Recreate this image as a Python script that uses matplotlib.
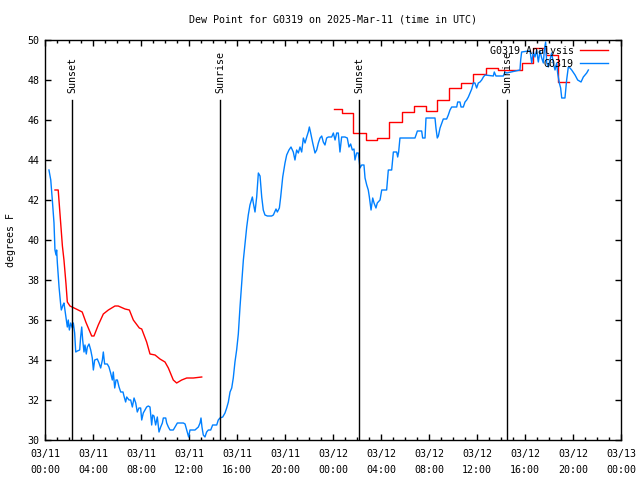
import numpy as np
import pandas as pd
import matplotlib
matplotlib.use("Agg")
import matplotlib.pyplot as plt
import matplotlib.dates as mdates

plt.rcParams["font.family"] = "DejaVu Sans Mono"
FS = 7.2

# hours after 2025-03-11 00:00 UTC
obs_hours = [0.33, 0.48, 0.61, 0.75, 0.83, 0.92, 0.97, 1.03, 1.17, 1.31, 1.36, 1.5, 1.58, 1.72,
             1.86, 1.94, 2.03, 2.14, 2.28, 2.36, 2.47, 2.56, 2.69, 2.89, 2.97, 3.06, 3.14, 3.25,
             3.33, 3.44, 3.53, 3.67, 3.81, 3.94, 4.03, 4.14, 4.36, 4.5, 4.64, 4.78, 4.86, 4.97,
             5.19, 5.33, 5.47, 5.61, 5.69, 5.81, 5.92, 6.03, 6.17, 6.31, 6.5, 6.58, 6.72, 6.81,
             7.0, 7.14, 7.28, 7.42, 7.56, 7.69, 7.83, 7.97, 8.06, 8.19, 8.33, 8.47, 8.61, 8.75,
             8.89, 8.97, 9.08, 9.22, 9.36, 9.5, 9.64, 9.78, 9.86, 10.06, 10.14, 10.28, 10.42,
             10.69, 11.03, 11.53, 11.67, 11.81, 11.97, 12.08, 12.5, 12.78, 12.92, 13.0, 13.08,
             13.19, 13.33, 13.47, 13.61, 13.81, 13.97, 14.31, 14.44, 14.58, 14.81, 15.0, 15.14,
             15.28, 15.42, 15.56, 15.69, 15.83, 15.97, 16.11, 16.25, 16.39, 16.53, 16.67, 16.81,
             16.94, 17.08, 17.28, 17.36, 17.5, 17.64, 17.78, 17.92, 18.06, 18.19, 18.33, 18.53,
             18.89, 19.03, 19.25, 19.36, 19.53, 19.64, 19.81, 20.0, 20.14, 20.33, 20.5, 20.69,
             20.83, 20.97, 21.11, 21.25, 21.39, 21.53, 21.67, 21.81, 21.94, 22.03, 22.14, 22.31,
             22.5, 22.64, 22.78, 22.92, 23.06, 23.19, 23.33, 23.47, 23.61, 23.89, 24.03, 24.17,
             24.31, 24.44, 24.58, 24.72, 25.0, 25.19, 25.33, 25.47, 25.61, 25.75, 25.83, 25.97,
             26.11, 26.25, 26.39, 26.58, 26.67, 26.81, 26.94, 27.03, 27.17, 27.31, 27.42, 27.58,
             27.69, 27.92, 28.06, 28.47, 28.61, 28.89, 29.03, 29.31, 29.39, 29.47, 29.58, 30.83,
             30.92, 31.03, 31.39, 31.47, 31.67, 31.75, 32.5, 32.58, 32.69, 32.78, 32.92, 33.19,
             33.47, 33.61, 33.75, 33.89, 34.31, 34.39, 34.58, 34.67, 34.86, 35.0, 35.14, 35.28,
             35.42, 35.56, 35.69, 35.83, 35.97, 36.11, 36.25, 36.39, 36.53, 36.67, 37.36, 37.44,
             37.58, 38.19, 38.33, 38.47, 39.58, 39.64, 39.72, 40.28, 40.42, 40.56, 40.69, 40.83,
             40.97, 41.11, 41.25, 41.39, 41.53, 41.61, 41.72, 41.81, 41.94, 42.08, 42.22, 42.36,
             42.5, 42.64, 42.72, 42.86, 42.97, 43.06, 43.33, 43.47, 43.61, 43.75, 43.89, 44.17,
             44.39, 44.67, 44.86, 45.14, 45.28]
obs_dewpt = [43.5, 43.0, 42.0, 40.85, 39.5, 39.25, 39.5, 38.85, 37.65, 36.75, 36.5, 36.75, 36.85,
             36.25, 35.65, 36.0, 35.5, 35.85, 35.6, 35.85, 35.35, 34.4, 34.45, 34.5, 35.15, 35.65,
             35.0, 34.4, 34.75, 34.3, 34.65, 34.8, 34.5, 34.1, 33.5, 34.0, 34.05, 33.85, 33.6,
             34.0, 34.4, 33.8, 33.8, 33.65, 33.35, 33.0, 33.4, 32.6, 33.0, 33.0, 32.65, 32.4, 32.4,
             32.2, 31.9, 32.15, 32.0, 32.0, 31.65, 32.1, 31.85, 31.4, 31.6, 31.6, 31.0, 31.35, 31.5,
             31.65, 31.7, 31.65, 30.75, 31.25, 31.2, 30.75, 31.15, 30.4, 30.65, 30.85, 31.1, 31.1,
             30.85, 30.65, 30.5, 30.5, 30.85, 30.85, 30.8, 30.5, 30.15, 30.5, 30.5, 30.65, 30.85,
             31.1, 30.65, 30.25, 30.15, 30.4, 30.5, 30.5, 30.75, 30.75, 31.0, 31.1, 31.15, 31.35,
             31.6, 31.9, 32.4, 32.6, 33.1, 33.9, 34.5, 35.3, 36.65, 37.85, 39.0, 39.85, 40.65,
             41.25, 41.75, 42.15, 41.85, 41.4, 42.15, 43.35, 43.2, 42.15, 41.5, 41.25, 41.2, 41.2,
             41.25, 41.55, 41.4, 41.6, 42.15, 43.15, 43.85, 44.25, 44.5, 44.65, 44.4, 44.0, 44.5,
             44.35, 44.65, 44.4, 45.1, 44.85, 45.15, 45.4, 45.65, 45.35, 44.85, 44.35, 44.5, 44.85,
             45.1, 45.2, 44.9, 44.75, 45.1, 45.15, 45.15, 45.35, 45.0, 45.35, 45.35, 44.4, 45.15,
             45.15, 45.1, 44.65, 44.8, 44.5, 44.55, 44.0, 44.35, 44.35, 43.6, 43.75, 43.75, 43.1,
             42.75, 42.5, 42.15, 41.5, 42.1, 41.85, 41.6, 41.85, 42.0, 42.5, 42.5, 43.5, 43.5,
             44.4, 44.4, 44.15, 44.4, 45.1, 45.1, 45.25, 45.45, 45.45, 45.1, 45.1, 46.1, 46.1,
             45.6, 45.1, 45.2, 45.6, 46.05, 46.05, 46.25, 46.5, 46.65, 46.65, 46.9, 46.9, 46.65,
             46.65, 46.9, 47.0, 47.15, 47.35, 47.55, 47.85, 47.85, 47.6, 47.85, 47.9, 48.0, 48.15,
             48.25, 48.2, 48.4, 48.2, 48.2, 48.4, 48.35, 48.5, 49.0, 49.4, 49.45, 49.45, 48.85,
             49.4, 49.15, 49.5, 48.9, 49.45, 49.1, 48.85, 49.5, 49.9, 48.85, 48.65, 49.0, 49.35,
             48.85, 48.5, 48.85, 48.35, 47.85, 47.6, 47.1, 47.1, 48.0, 48.65, 48.6, 48.5, 48.25,
             48.0, 47.9, 48.15, 48.35, 48.5]

# analysis, first run (smooth)
ana1_hours = [0.83, 1.1, 1.3, 1.45, 1.58, 1.75, 1.86, 2.08, 2.6, 3.1, 3.4, 3.89, 4.08, 4.44, 4.86,
              5.28, 5.83, 6.1, 6.67, 7.03, 7.36, 7.86, 8.06, 8.47, 8.75, 9.17, 9.58, 10.0, 10.28,
              10.69, 10.97, 11.39, 11.81, 12.36, 13.06]
ana1_dewpt = [42.5, 42.5, 40.9, 39.7, 39.0, 37.8, 36.9, 36.7, 36.55, 36.4, 35.9, 35.2, 35.2, 35.75,
              36.3, 36.5, 36.7, 36.7, 36.55, 36.5, 36.0, 35.6, 35.55, 34.9, 34.3, 34.25, 34.05,
              33.9, 33.6, 33.0, 32.85, 33.0, 33.1, 33.1, 33.15]
# analysis, second run (hourly steps)
ana2_hours = [24.1, 24.75, 25.7, 26.75, 27.7, 28.7, 29.75, 30.75, 31.75, 32.7, 33.7, 34.7, 35.7,
              36.75, 37.75, 39.75, 40.7, 41.75, 42.75, 43.7]
ana2_dewpt = [46.55, 46.35, 45.35, 45.0, 45.1, 45.9, 46.4, 46.7, 46.45, 47.0, 47.6, 47.85, 48.3,
              48.6, 48.5, 48.85, 49.6, 49.25, 47.9, 47.9]

event_hours = [2.25, 14.58, 26.17, 38.5]
event_labels = ["Sunset", "Sunrise", "Sunset", "Sunrise"]

base = pd.Timestamp("2025-03-11 00:00")
def to_time(h):
    return base + pd.to_timedelta(np.asarray(h), unit="h")

fig = plt.figure(figsize=(6.4, 4.8), dpi=100)
ax = fig.add_axes([45 / 640, 40 / 480, 576 / 640, 400 / 480])

ax.plot(to_time(ana1_hours), ana1_dewpt, color="#ff0000", lw=1.0, label="G0319 Analysis")
ax.plot(to_time(ana2_hours), ana2_dewpt, color="#ff0000", lw=1.0, drawstyle="steps-post")
ax.plot(to_time(obs_hours), obs_dewpt, color="#0080ff", lw=1.0, label="G0319")

for h, lab in zip(to_time(event_hours), event_labels):
    ax.plot([h, h], [30, 47.0], color="black", lw=1.0)
    ax.text(h, 47.35, lab, rotation=90, ha="center", va="bottom", fontsize=FS)

ax.set_xlim(base, base + pd.Timedelta(hours=48))
ax.set_ylim(30, 50)
ax.set_yticks(np.arange(30, 51, 2))
ax.xaxis.set_major_locator(mdates.HourLocator(byhour=range(0, 24, 4)))
ax.xaxis.set_minor_locator(mdates.HourLocator())
ax.xaxis.set_major_formatter(mdates.DateFormatter("%m/%d\n%H:%M"))
ax.tick_params(which="both", direction="in", top=True, right=True, labelsize=FS, width=1)
ax.tick_params(which="major", length=4.5)
ax.tick_params(which="minor", length=2.2)
ax.tick_params(axis="x", pad=6.5)
ax.tick_params(axis="y", pad=4)
for s in ax.spines.values():
    s.set_linewidth(1.0)

ax.set_ylabel("degrees F", fontsize=FS, labelpad=8)
ax.set_title("Dew Point for G0319 on 2025-Mar-11 (time in UTC)", fontsize=FS, pad=12.5)

ax.legend(loc="upper right", bbox_to_anchor=(1 - 7 / 576, 1), frameon=False,
          markerfirst=False, fontsize=FS, handlelength=2.8, handletextpad=0.6,
          labelspacing=0.3, borderaxespad=0.3, borderpad=0.3)

fig.canvas.draw()
for lbl in ax.get_xticklabels():
    lbl.set_linespacing(1.75)

fig.savefig("out.png", dpi=100)
